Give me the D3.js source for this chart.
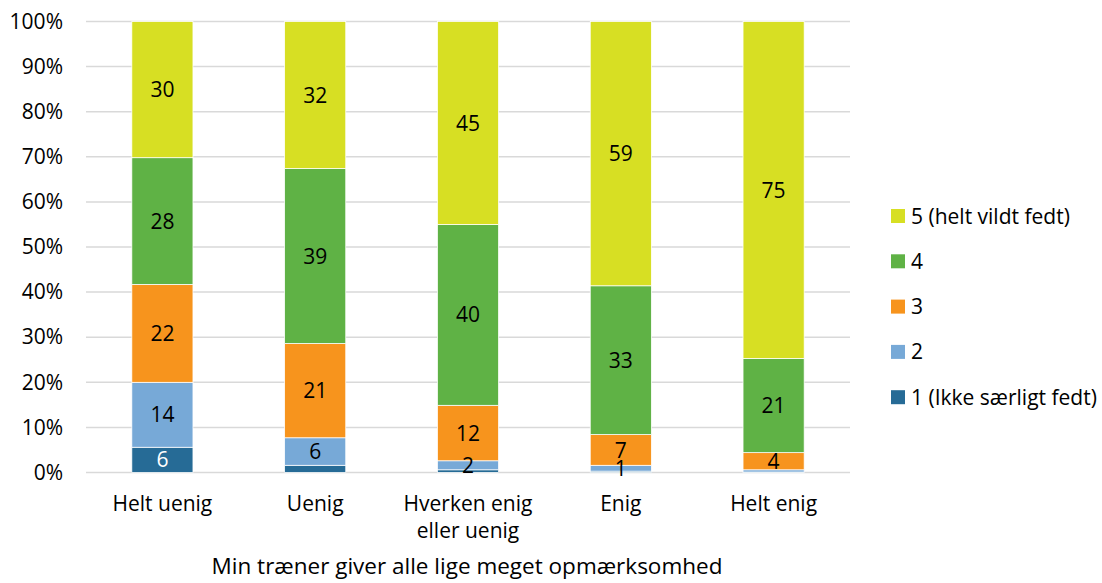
<!DOCTYPE html>
<html>
<head>
<meta charset="utf-8">
<script src="https://cdn.jsdelivr.net/npm/d3@7"></script>
<style>
  body { margin: 0; background: #fff; }
  text { font-family: "Open Sans", sans-serif; fill: #000; }
</style>
</head>
<body>
<svg width="1102" height="583"></svg>
<script>
// categories on the x axis
var categories = ["Helt uenig", "Uenig", "Hverken enig eller uenig", "Enig", "Helt enig"];
// series names, bottom to top
var series = ["1 (Ikke særligt fedt)", "2", "3", "4", "5 (helt vildt fedt)"];
var colors = ["#266b96", "#77a9d7", "#f7941d", "#5fb245", "#d7df23"];

// percentages per series (one value per category)
var s1 = [5.6, 1.6, 0.6, 0.3, 0.1];
var s2 = [14.4, 6.1, 2.0, 1.3, 0.5];
var s3 = [21.7, 20.9, 12.3, 6.8, 3.8];
var s4 = [28.1, 38.8, 40.1, 33.0, 20.9];
var s5 = [30.2, 32.6, 45.0, 58.6, 74.7];
// data labels as printed (null = no label)
var lab1 = ["6", null, null, null, null];
var lab2 = ["14", "6", "2", "1", null];
var lab3 = ["22", "21", "12", "7", "4"];
var lab4 = ["28", "39", "40", "33", "21"];
var lab5 = ["30", "32", "45", "59", "75"];
var yTicks = [0, 10, 20, 30, 40, 50, 60, 70, 80, 90, 100];

var values = [s1, s2, s3, s4, s5];
var labels = [lab1, lab2, lab3, lab4, lab5];

var svg = d3.select("svg");

var x = d3.scaleBand().domain(categories).range([86, 850]).paddingInner(0.6).paddingOuter(0.3);
var y = d3.scaleLinear().domain([0, 100]).range([472.5, 21.5]);

// rows for d3.stack
var rows = categories.map(function(c, i) {
  var r = { cat: c };
  series.forEach(function(s, k) { r[s] = values[k][i]; });
  return r;
});
var stacked = d3.stack().keys(series)(rows);

// gridlines
svg.append("g").selectAll("line")
  .data(yTicks)
  .enter().append("line")
  .attr("x1", 86).attr("x2", 850)
  .attr("y1", function(d) { return y(d); })
  .attr("y2", function(d) { return y(d); })
  .attr("stroke", "#d9d9d9")
  .attr("stroke-width", 1.5);

// y axis labels
var yAxis = d3.axisLeft(y).tickValues(yTicks).tickSize(0).tickPadding(0)
  .tickFormat(function(d) { return d + "%"; });
var ya = svg.append("g").attr("transform", "translate(63,0)").call(yAxis);
ya.select(".domain").remove();
ya.selectAll("text").attr("font-size", 21).style("font-family", "'Open Sans', sans-serif").attr("fill", "#000");

// bars
var layer = svg.append("g").selectAll("g")
  .data(stacked)
  .enter().append("g")
  .attr("fill", function(d, k) { return colors[k]; });

layer.selectAll("rect")
  .data(function(d) { return d; })
  .enter().append("rect")
  .attr("x", function(d) { return x(d.data.cat); })
  .attr("width", x.bandwidth())
  .attr("y", function(d) { return y(d[1]); })
  .attr("height", function(d) { return y(d[0]) - y(d[1]); })
  .attr("stroke", "#fff")
  .attr("stroke-width", 0.75);

// data labels
stacked.forEach(function(layerData, k) {
  svg.append("g").selectAll("text")
    .data(layerData.filter(function(d, i) { return labels[k][i] !== null; }))
    .enter().append("text")
    .attr("x", function(d) { return x(d.data.cat) + x.bandwidth() / 2; })
    .attr("y", function(d) { return (y(d[0]) + y(d[1])) / 2; })
    .attr("dy", "0.36em")
    .attr("text-anchor", "middle")
    .attr("font-size", 21)
    .style("fill", k === 0 ? "#fff" : "#000")
    .text(function(d) { return labels[k][categories.indexOf(d.data.cat)]; });
});

// x labels (wrapped)
var xl = svg.append("g").selectAll("text")
  .data(categories)
  .enter().append("text")
  .attr("x", function(d) { return x(d) + x.bandwidth() / 2; })
  .attr("y", 511)
  .attr("text-anchor", "middle")
  .attr("font-size", 21);
xl.each(function(d) {
  var lines = d === "Hverken enig eller uenig" ? ["Hverken enig", "eller uenig"] : [d];
  var t = d3.select(this);
  lines.forEach(function(l, j) {
    t.append("tspan").attr("x", t.attr("x")).attr("dy", j === 0 ? 0 : 27).text(l);
  });
});

// axis title
svg.append("text")
  .attr("x", 467).attr("y", 574)
  .attr("text-anchor", "middle")
  .attr("font-size", 22.5)
  .text("Min træner giver alle lige meget opmærksomhed");

// legend, top to bottom = series 5 .. 1
var legendItems = series.slice().reverse();
var lg = svg.append("g").selectAll("g")
  .data(legendItems)
  .enter().append("g")
  .attr("transform", function(d, i) { return "translate(891," + (216 + i * 45.3) + ")"; });
lg.append("rect")
  .attr("x", 0).attr("y", -7).attr("width", 14).attr("height", 14)
  .attr("fill", function(d) { return colors[series.indexOf(d)]; });
lg.append("text")
  .attr("x", 20).attr("dy", "0.36em")
  .attr("font-size", 21)
  .text(function(d) { return d; });
</script>
</body>
</html>
